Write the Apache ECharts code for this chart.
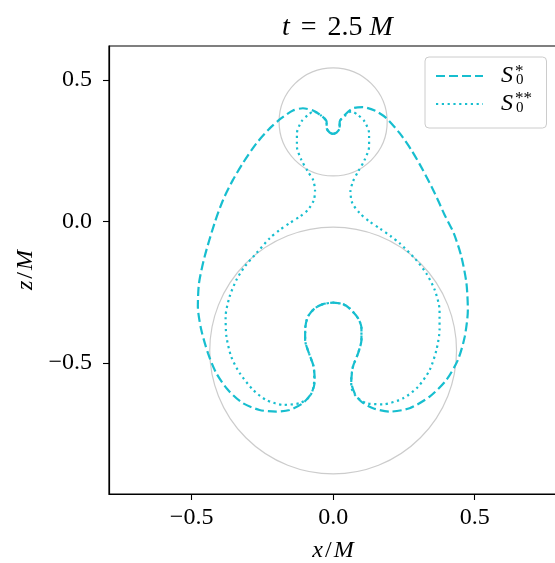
<!DOCTYPE html>
<html>
<head>
<meta charset="utf-8">
<script src="https://cdn.jsdelivr.net/npm/echarts@6/dist/echarts.min.js"></script>
<style>
html,body{margin:0;padding:0;background:#fff;}
#chart{width:555px;height:563px;}
</style>
</head>
<body>
<div id="chart"></div>
<script>
// ---- data (x/M, z/M) ----
const dashedX = [0,-0.012,-0.023,-0.023,-0.041,-0.071,-0.107,-0.142,-0.183,-0.224,-0.271,-0.319,-0.354,-0.389,-0.419,-0.454,-0.474,-0.478,-0.466,-0.442,-0.413,-0.372,-0.319,-0.260,-0.201,-0.154,-0.107,-0.077,-0.065,-0.069,-0.083,-0.099,-0.098,-0.089,-0.065,-0.036,0,0.035,0.058,0.088,0.100,0.100,0.088,0.070,0.064,0.076,0.100,0.141,0.200,0.270,0.341,0.400,0.441,0.465,0.476,0.471,0.453,0.426,0.394,0.359,0.317,0.276,0.235,0.188,0.147,0.105,0.070,0.041,0.023,0.023,0.012,0];
const dashedZ = [0.309,0.314,0.330,0.352,0.373,0.392,0.400,0.392,0.365,0.329,0.276,0.206,0.147,0.076,-0.006,-0.124,-0.218,-0.301,-0.383,-0.466,-0.536,-0.595,-0.642,-0.666,-0.672,-0.666,-0.642,-0.607,-0.566,-0.513,-0.472,-0.419,-0.372,-0.336,-0.307,-0.292,-0.287,-0.292,-0.307,-0.342,-0.376,-0.419,-0.466,-0.513,-0.566,-0.607,-0.637,-0.660,-0.672,-0.660,-0.619,-0.560,-0.489,-0.407,-0.313,-0.218,-0.124,-0.041,0.023,0.100,0.182,0.253,0.312,0.365,0.392,0.404,0.400,0.376,0.352,0.330,0.314,0.309];
const dottedX = [0,-0.012,-0.023,-0.023,-0.041,-0.069,-0.089,-0.112,-0.128,-0.128,-0.112,-0.089,-0.071,-0.064,-0.068,-0.089,-0.118,-0.154,-0.189,-0.224,-0.271,-0.313,-0.342,-0.366,-0.380,-0.377,-0.360,-0.330,-0.283,-0.236,-0.177,-0.118,-0.083,-0.069,-0.067,-0.069,-0.083,-0.099,-0.098,-0.089,-0.065,-0.036,0,0.035,0.058,0.088,0.100,0.100,0.088,0.070,0.064,0.064,0.082,0.117,0.176,0.247,0.300,0.341,0.365,0.376,0.376,0.359,0.329,0.288,0.235,0.206,0.164,0.129,0.094,0.068,0.061,0.070,0.088,0.111,0.127,0.127,0.111,0.088,0.065,0.041,0.023,0.023,0.012,0];
const dottedZ = [0.309,0.314,0.330,0.352,0.373,0.389,0.376,0.353,0.312,0.264,0.217,0.176,0.147,0.111,0.076,0.041,0.017,-0.006,-0.030,-0.059,-0.112,-0.160,-0.207,-0.266,-0.336,-0.407,-0.478,-0.536,-0.595,-0.631,-0.648,-0.642,-0.619,-0.584,-0.545,-0.513,-0.472,-0.419,-0.372,-0.336,-0.307,-0.292,-0.287,-0.292,-0.307,-0.342,-0.376,-0.419,-0.466,-0.513,-0.560,-0.584,-0.619,-0.642,-0.646,-0.625,-0.584,-0.525,-0.454,-0.383,-0.313,-0.242,-0.183,-0.130,-0.077,-0.054,-0.024,-0.001,0.029,0.064,0.105,0.141,0.176,0.217,0.264,0.312,0.353,0.376,0.389,0.373,0.352,0.330,0.314,0.309];
// horizon circles: centre (x,z) and radius
const circleX = [0, 0];
const circleZ = [0.352, -0.456];
const circleR = [0.191, 0.436];
const tickValues = [-0.5, 0, 0.5];
const seriesNames = ['S0*', 'S0**'];

const zip = (a, b) => a.map((v, i) => [v, b[i]]);
const SERIF = "'Liberation Serif', 'DejaVu Serif', serif";
const CYAN = '#17becf';
const fmt = v => (v < 0 ? '\u2212' : '') + Math.abs(v).toFixed(1);
const italic = size => ({fontFamily: SERIF, fontSize: size, fontStyle: 'italic', color: '#000'});

const chart = echarts.init(document.getElementById('chart'), null, {renderer: 'canvas'});
chart.setOption({
  animation: false,
  backgroundColor: '#fff',
  title: {
    text: '{i|t}{e|=}{n|2.5}{i|M}',
    left: 277, top: 9,
    textStyle: {
      fontFamily: SERIF, fontSize: 28, fontWeight: 'normal', color: '#000',
      rich: {
        i: italic(28),
        e: {fontFamily: SERIF, fontSize: 28, color: '#000', padding: [0, 11, 0, 11]},
        n: {fontFamily: SERIF, fontSize: 28, color: '#000', padding: [0, 7, 0, 0]}
      }
    }
  },
  grid: { left: 109, top: 46, width: 448, height: 448, outerBoundsMode: 'none', containLabel: false, show: true, borderColor: '#000', borderWidth: 1.2, backgroundColor: 'transparent' },
  xAxis: {
    type: 'value', min: -0.792, max: 0.791,
    splitLine: {show: false},
    axisLine: {show: true, onZero: false, lineStyle: {color: '#000', width: 1.2}},
    axisTick: {show: true, inside: false, length: 6, customValues: tickValues, lineStyle: {color: '#000', width: 1.1}},
    axisLabel: {customValues: tickValues, formatter: fmt, fontFamily: SERIF, fontSize: 24, color: '#000', margin: 12},
    name: '{i|x}{n|/}{i|M}', nameLocation: 'middle', nameGap: 45,
    nameTextStyle: { fontFamily: SERIF, fontSize: 24, color: '#000', rich: {i: italic(24), n: {fontFamily: SERIF, fontSize: 24, color: '#000', padding: [0, 2, 0, 2]}} }
  },
  yAxis: {
    type: 'value', min: -0.963, max: 0.620,
    splitLine: {show: false},
    axisLine: {show: true, onZero: false, lineStyle: {color: '#000', width: 1.2}},
    axisTick: {show: true, inside: false, length: 6, customValues: tickValues, lineStyle: {color: '#000', width: 1.1}},
    axisLabel: {customValues: tickValues, formatter: fmt, fontFamily: SERIF, fontSize: 24, color: '#000', margin: 17},
    name: '{i|z}{n|/}{i|M}', nameLocation: 'middle', nameGap: 66, nameRotate: 90,
    nameTextStyle: { fontFamily: SERIF, fontSize: 24, color: '#000', rich: {i: italic(24), n: {fontFamily: SERIF, fontSize: 24, color: '#000', padding: [0, 2, 0, 2]}} }
  },
  legend: {
    data: seriesNames,
    orient: 'vertical', left: 425, top: 57,
    padding: [5, 23, 10, 10],
    itemWidth: 47, itemHeight: 14, itemGap: 0,
    borderColor: '#cccccc', borderWidth: 1, borderRadius: 4, backgroundColor: '#ffffff',
    itemStyle: {opacity: 0, color: 'rgba(0,0,0,0)', borderColor: 'rgba(0,0,0,0)', borderWidth: 0},
    formatter: () => '{s|S}{sub|0}',
    textStyle: {
      rich: {
        s: {fontFamily: SERIF, fontSize: 24, fontStyle: 'italic', color: '#000', lineHeight: 23, padding: [2, 3, 2, 13]},
        sub: {fontFamily: SERIF, fontSize: 15, color: '#000', lineHeight: 15, verticalAlign: 'bottom'}
      }
    }
  },
  graphic: [
    {type: 'text', left: 515, top: 63, z: 100, style: {text: '*', font: "17px 'Liberation Serif'", fill: '#000'}},
    {type: 'text', left: 515, top: 90, z: 100, style: {text: '**', font: "17px 'Liberation Serif'", fill: '#000'}}
  ],
  series: [
    {
      type: 'custom', name: 'horizons', silent: true, z: 1,
      data: circleX.map((x, i) => [x, circleZ[i], circleR[i]]),
      encode: {x: 0, y: 1},
      renderItem: (params, api) => {
        const c = api.coord([api.value(0), api.value(1)]);
        const s = api.size([api.value(2), api.value(2)]);
        return {type: 'circle', shape: {cx: c[0], cy: c[1], r: s[0]}, style: {fill: 'none', stroke: '#cccccc', lineWidth: 1.2}};
      }
    },
    {
      name: seriesNames[0], type: 'line', data: zip(dashedX, dashedZ),
      showSymbol: false, symbol: 'none', smooth: 0.25, z: 3,
      lineStyle: {color: CYAN, width: 2.2, type: [9, 4]}, itemStyle: {color: CYAN}
    },
    {
      name: seriesNames[1], type: 'line', data: zip(dottedX, dottedZ),
      showSymbol: false, symbol: 'none', smooth: 0.25, z: 4,
      lineStyle: {color: CYAN, width: 2.2, type: [2.2, 3.6], cap: 'butt'}, itemStyle: {color: CYAN}
    }
  ]
});
</script>
</body>
</html>
